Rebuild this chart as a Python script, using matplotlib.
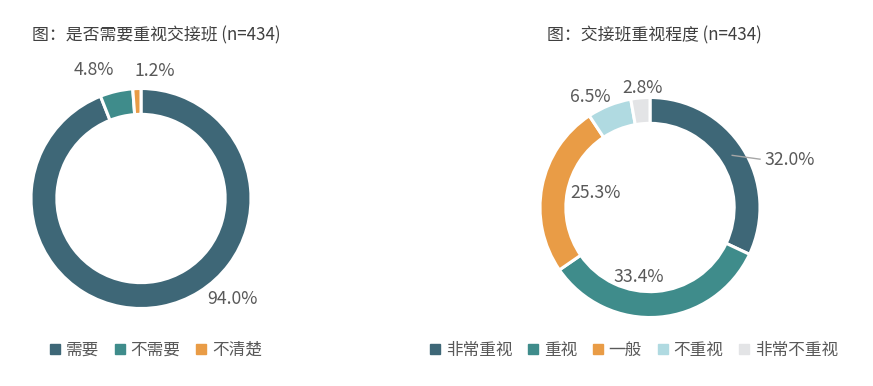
import matplotlib
matplotlib.use("Agg")
import matplotlib.pyplot as plt
import numpy as np
from matplotlib.lines import Line2D

plt.rcParams['font.family'] = ['Noto Sans CJK SC', 'DejaVu Sans']

# ---- data ----
title1 = "图：是否需要重视交接班 (n=434)"
cats1 = ["需要", "不需要", "不清楚"]
vals1 = [94.0, 4.8, 1.2]

title2 = "图：交接班重视程度 (n=434)"
cats2 = ["非常重视", "重视", "一般", "不重视", "非常不重视"]
vals2 = [32.0, 33.4, 25.3, 6.5, 2.8]

# ---- style ----
colors1 = ["#3E6777", "#3F8C8B", "#E99C46"]
colors2 = ["#3E6777", "#3F8C8B", "#E99C46", "#B0DAE1", "#E3E4E6"]
text_col = "#595959"
title_col = "#404040"

W, H = 873, 386
fig = plt.figure(figsize=(W / 100, H / 100), dpi=100)

R_PX = 110.0     # outer radius in pixels
BOX = 300.0      # axes box size in pixels
RING = 0.235     # ring width as fraction of radius


def make_ax(cx, cy):
    ax = fig.add_axes([(cx - BOX / 2) / W, (H - cy - BOX / 2) / H, BOX / W, BOX / H])
    lim = BOX / 2 / R_PX
    ax.set_xlim(-lim, lim)
    ax.set_ylim(-lim, lim)
    ax.set_aspect('equal')
    ax.axis('off')
    return ax


def donut(ax, vals, colors):
    wedges, _ = ax.pie(vals, colors=colors, startangle=90, counterclock=False,
                       radius=1.0, frame=True,
                       wedgeprops=dict(width=RING, edgecolor='white', linewidth=2.2))
    ax.axis('off')
    lim = BOX / 2 / R_PX
    ax.set_xlim(-lim, lim)
    ax.set_ylim(-lim, lim)
    return wedges


# label layout (angle in degrees, radius in units of outer radius)
lab1 = [(-47.7, 1.23), (110.0, 1.24), (83.7, 1.17)]
lab2 = [None, (-99.0, 0.64), (165.0, 0.51), (118.4, 1.14), (93.4, 1.09)]

ax1 = make_ax(141, 198.5)
donut(ax1, vals1, colors1)
for v, (a, r) in zip(vals1, lab1):
    t = np.deg2rad(a)
    ax1.text(r * np.cos(t), r * np.sin(t), f"{v:.1f}%", ha='center', va='center',
             fontsize=12.7, color=text_col)

ax2 = make_ax(650, 207.5)
w2 = donut(ax2, vals2, colors2)
for i, (v, pos) in enumerate(zip(vals2, lab2)):
    if pos is None:
        w = w2[i]
        mid = np.deg2rad((w.theta1 + w.theta2) / 2)
        x0, y0 = 0.885 * np.cos(mid), 0.885 * np.sin(mid)
        x1, y1 = 1.0, y0 - 0.035
        ax2.plot([x0, x1], [y0, y1], color='#A6A6A6', lw=1.0)
        ax2.text(x1 + 0.04, y1 - 0.005, f"{v:.1f}%", ha='left', va='center',
                 fontsize=12.7, color=text_col)
    else:
        a, r = pos
        t = np.deg2rad(a)
        ax2.text(r * np.cos(t), r * np.sin(t), f"{v:.1f}%", ha='center', va='center',
                 fontsize=12.7, color=text_col)

# titles
fig.text(32 / W, 1 - 35 / H, title1, ha='left', va='center', fontsize=12.2, color=title_col)
fig.text(547 / W, 1 - 35 / H, title2, ha='left', va='center', fontsize=12.2, color=title_col)


def legend(cats, colors, cx, cy):
    handles = [Line2D([], [], marker='s', linestyle='none', markersize=6.5,
                      markerfacecolor=c, markeredgecolor=c) for c in colors]
    fig.legend(handles, cats, loc='center', bbox_to_anchor=(cx / W, 1 - cy / H),
               ncol=len(cats), frameon=False, fontsize=12, labelcolor=text_col,
               handlelength=0.6, handletextpad=0.35, columnspacing=0.95,
               borderpad=0, borderaxespad=0)


legend(cats1, colors1, 156, 350)
legend(cats2, colors2, 634, 350)

fig.savefig("out.png", dpi=100)
